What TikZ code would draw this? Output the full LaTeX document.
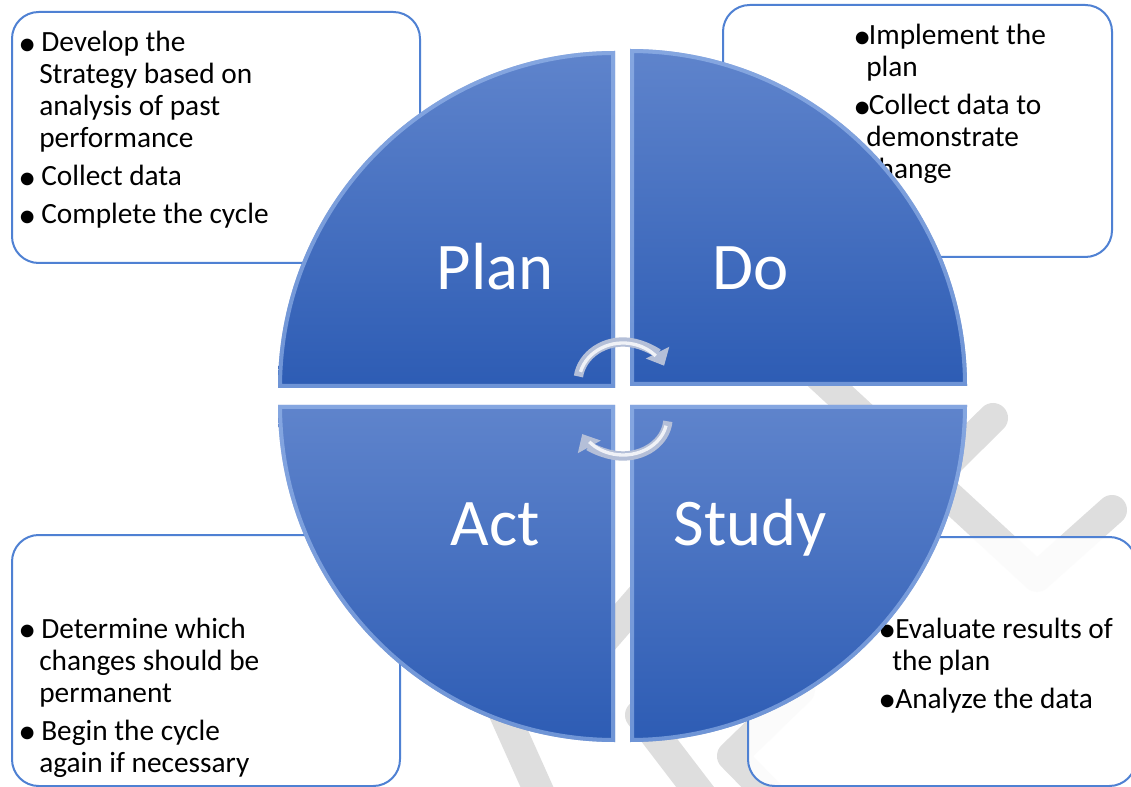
\documentclass[tikz,border=0pt]{standalone}
\usepackage{fontspec}
\usepackage{graphicx}
\setmainfont{Carlito}
\usetikzlibrary{arrows.meta}
\definecolor{boxblue}{HTML}{4F81D3}
\definecolor{qtop}{HTML}{5F84CC}
\definecolor{qbot}{HTML}{2D5CB4}
\definecolor{bevelc}{HTML}{A5C3F2}
\definecolor{wmgray}{HTML}{DEDEDE}
\definecolor{arrowgray}{HTML}{B4BFD8}
\newcommand{\bul}[1]{\makebox[#1][l]{\raisebox{-2.6pt}{\scalebox{1.22}{•}}}}
\tikzset{
  boxshape/.style={draw=boxblue, line width=1.5pt, rounded corners=20pt, fill=white, fill opacity=0.9},
  txt/.style={anchor=base west, inner sep=0pt, text=black, font=\fontsize{22}{26}\selectfont},
  biglabel/.style={anchor=base, inner sep=0pt, text=white, font=\fontsize{50}{60}\selectfont},
  wm/.style={draw=wmgray, line width=22.5pt, line cap=round, line join=round},
  quad/.style={top color=qtop, bottom color=qbot},
  bevelline/.style={draw=bevelc, line width=6pt, opacity=0.55},
  cyclearrow/.style={draw=arrowgray, line width=7pt, -{Triangle[length=11pt,width=19pt]}},
  shine/.style={draw=white, line width=2.5pt, opacity=0.8}
}
\begin{document}
\begin{tikzpicture}[x=0.75pt,y=-0.75pt]
\useasboundingbox (0,0) rectangle (1131,787);
\fill[white] (0,0) rectangle (1131,787);

% watermark
\draw[wm] (780,340) -- (1037,577) -- (1112,510);
\draw[wm] (993,418) -- (900,510);
\draw[wm] (498,700) -- (545,805);
\draw[wm] (640,715) -- (705,800);
\draw[wm] (800,690) -- (732,756) -- (780,805);
\draw[wm] (560,690) -- (660,575);

% text boxes
\draw[boxshape] (12,12) rectangle (420,263);
\draw[boxshape] (723,5) rectangle (1112,257);
\draw[boxshape] (12,535) rectangle (400,786);
\draw[boxshape] (748,537) rectangle (1136,786);

% top-left text
\node[txt] (tl1) at (18,52)  {\bul{17.25pt}Develop the};
\node[txt] (tl2) at (39,84)  {Strategy based on};
\node[txt] (tl3) at (39,116) {analysis of past};
\node[txt] (tl4) at (39,148) {performance};
\node[txt] (tl5) at (18,186) {\bul{17.25pt}Collect data};
\node[txt] (tl6) at (18,224) {\bul{17.25pt}Complete the cycle};

% top-right text
\node[txt] (tr1) at (853,45)  {\bul{11.75pt}Implement the};
\node[txt] (tr2) at (866,77)  {plan};
\node[txt] (tr3) at (853,115) {\bul{11.75pt}Collect data to};
\node[txt] (tr4) at (866,147) {demonstrate};
\node[txt] (tr5) at (866,179) {change};

% bottom-left text
\node[txt] (bl1) at (18,638) {\bul{17.25pt}Determine which};
\node[txt] (bl2) at (39,670) {changes should be};
\node[txt] (bl3) at (39,702) {permanent};
\node[txt] (bl4) at (18,740) {\bul{17.25pt}Begin the cycle};
\node[txt] (bl5) at (39,772) {again if necessary};

% bottom-right text
\node[txt] (br1) at (878,638) {\bul{12.75pt}Evaluate results of};
\node[txt] (br2) at (892,670) {the plan};
\node[txt] (br3) at (878,708) {\bul{12.75pt}Analyze the data};

% quadrants
\def\qPlan{(615,388) -- (278,388) arc[start angle=180,end angle=270,radius=337] -- cycle}
\def\qDo{(630,386) -- (630,49) arc[start angle=270,end angle=360,radius=337] -- cycle}
\def\qAct{(615,405) -- (615,742) arc[start angle=90,end angle=180,radius=337] -- cycle}
\def\qStudy{(630,405) -- (967,405) arc[start angle=0,end angle=90,radius=337] -- cycle}

\shade[quad] \qPlan;
\shade[quad] \qDo;
\shade[quad] \qAct;
\shade[quad] \qStudy;
\begin{scope}\clip \qPlan; \draw[bevelline] \qPlan; \end{scope}
\begin{scope}\clip \qDo; \draw[bevelline] \qDo; \end{scope}
\begin{scope}\clip \qAct; \draw[bevelline] \qAct; \end{scope}
\begin{scope}\clip \qStudy; \draw[bevelline] \qStudy; \end{scope}

% labels
\node[biglabel] (plan)  at (495,290) {Plan};
\node[biglabel] (do)    at (751,290) {Do};
\node[biglabel] (act)   at (495,545) {Act};
\node[biglabel] (study) at (750,545) {Study};

% cycle arrows
\draw[cyclearrow] (623,382) ++(188:45 and 40) arc[start angle=188,end angle=336,x radius=45,y radius=40];
\draw[shine] (623,382) ++(195:44 and 39) arc[start angle=195,end angle=318,x radius=44,y radius=39];
\draw[cyclearrow] (623,418) ++(5:45 and 38) arc[start angle=5,end angle=155,x radius=45,y radius=38];
\draw[shine] (623,418) ++(12:44 and 37) arc[start angle=12,end angle=140,x radius=44,y radius=37];
\end{tikzpicture}
\end{document}
